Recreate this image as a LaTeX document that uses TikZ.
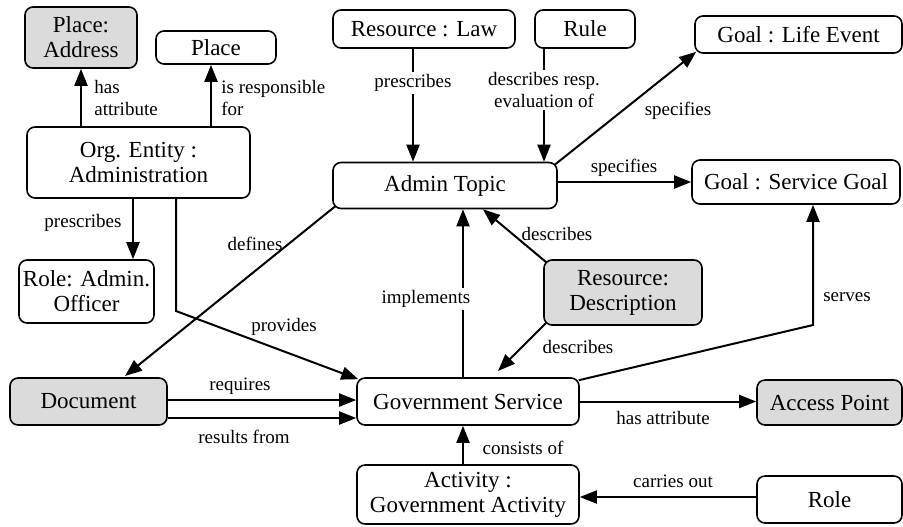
\documentclass[tikz,border=0pt]{standalone}
\usepackage{fontspec}
\setmainfont{Liberation Serif}
\usetikzlibrary{arrows.meta,calc}
\begin{document}
\begin{tikzpicture}[x=0.5pt,y=-0.5pt,
  box/.style={draw,line width=0.8pt,rounded corners=4pt,inner sep=1pt,align=center,
    font=\fontsize{11.5}{12.5}\selectfont},
  gbox/.style={box,fill=black!14},
  arr/.style={line width=1pt,-{Triangle[length=8.5pt,width=6.5pt]}},
  lbl/.style={font=\fontsize{9.5}{11}\selectfont,inner sep=1pt,align=center},
  wlbl/.style={lbl,fill=white}]
\useasboundingbox (0,0) rectangle (903,526);
% nodes
\node[gbox,minimum width=56pt,minimum height=30.5pt] (addr) at (81,37.5) {Place:\\Address};
\node[box,minimum width=60pt,minimum height=16.5pt] (place) at (216,47.5) {Place};
\node[box,minimum width=111.5pt,minimum height=35.5pt] (org) at (138.5,162.5) {Org. Entity :\\Administration};
\node[box,minimum width=91pt,minimum height=19pt] (law) at (424,29) {Resource : Law};
\node[box,minimum width=50pt,minimum height=19pt] (rule) at (585,29) {Rule};
\node[box,minimum width=103.5pt,minimum height=18.5pt] (life) at (798.5,34.5) {Goal : Life Event};
\node[box,minimum width=112pt,minimum height=23pt] (topic) at (445,185.5) {Admin Topic};
\node[box,minimum width=104pt,minimum height=22pt] (sgoal) at (796,182) {Goal : Service Goal};
\node[box,minimum width=67.5pt,minimum height=31.5pt] (officer) at (86.5,291.5) {Role: Admin.\\Officer};
\node[gbox,minimum width=79pt,minimum height=32.5pt] (desc) at (623,292.5) {Resource:\\Description};
\node[gbox,minimum width=78.5pt,minimum height=23.5pt] (doc) at (88.5,401.5) {Document};
\node[box,minimum width=111pt,minimum height=23.5pt] (gs) at (468,401.5) {Government Service};
\node[gbox,minimum width=72.5pt,minimum height=22.5pt] (access) at (829.5,402.5) {Access Point};
\node[box,minimum width=111pt,minimum height=29.5pt] (act) at (468,494.5) {Activity :\\Government Activity};
\node[box,minimum width=72.5pt,minimum height=23.5pt] (role) at (829.5,499.5) {Role};
% helper coordinates
\coordinate (pbend) at (176,311);
\coordinate (docin) at (125,376);
\coordinate (gsin) at (498,371);
\coordinate (sbend) at (813,325);
% connectors
\draw[arr] (org.north -| addr) -- (addr.south);
\draw[arr] (org.north -| 211,0) -- (place.south -| 211,0);
\draw[arr] (law.south -| 413,0) -- (topic.north -| 413,0);
\draw[arr] (rule.south -| 544,0) -- (topic.north -| 544,0);
\draw[arr] ($(topic.north east)+(-3,3)$) -- ($(life.south west)+(2,-2)$);
\draw[arr] (topic.east |- sgoal) -- (sgoal.west);
\draw[arr] (org.south -| 133,0) -- (officer.north -| 133,0);
\draw[arr] (org.south -| pbend) -- (pbend) -- ($(gs.north west)+(2,2)$);
\draw[arr] ($(topic.south west)+(3,-3)$) -- (docin);
\draw[arr] (gs.north -| 463,0) -- (topic.south -| 463,0);
\draw[arr] ($(desc.north west)+(3,3)$) -- ($(topic.south)+(38,0)$);
\draw[arr] ($(desc.south west)+(3,-3)$) -- (gsin);
\draw[arr] ($(gs.north east)+(-1,3)$) -- (sbend) -- (sgoal.south -| sbend);
\draw[arr] (doc.east |- 0,400) -- (gs.west |- 0,400);
\draw[arr] (doc.east |- 0,418) -- (gs.west |- 0,418);
\draw[arr] (gs.east) -- (gs.east -| access.west);
\draw[arr] (act.north -| 463,0) -- (gs.south -| 463,0);
\draw[arr] (role.west |- 0,497) -- (act.east |- 0,497);
% labels
\node[lbl,align=left,anchor=west] (l1) at (92,98) {has\\attribute};
\node[lbl,align=left,anchor=west] (l2) at (219,98) {is responsible\\for};
\node[wlbl] (l3) at (413,83) {prescribes};
\node[wlbl] (l4) at (544,90) {describes resp.\\evaluation of};
\node[lbl] (l5) at (678,111) {specifies};
\node[lbl] (l6) at (624,168) {specifies};
\node[lbl] (l7) at (83,223) {prescribes};
\node[lbl] (l8) at (284,327) {provides};
\node[lbl] (l9) at (255,244) {defines};
\node[wlbl] (l10) at (426,299) {implements};
\node[lbl] (l11) at (557,234) {describes};
\node[lbl] (l12) at (578,347) {describes};
\node[lbl] (l13) at (847,297) {serves};
\node[lbl] (l14) at (240,386) {requires};
\node[lbl] (l15) at (244,437) {results from};
\node[lbl] (l16) at (663,418) {has attribute};
\node[lbl] (l17) at (523,448) {consists of};
\node[lbl] (l18) at (673,481) {carries out};
\end{tikzpicture}
\end{document}
